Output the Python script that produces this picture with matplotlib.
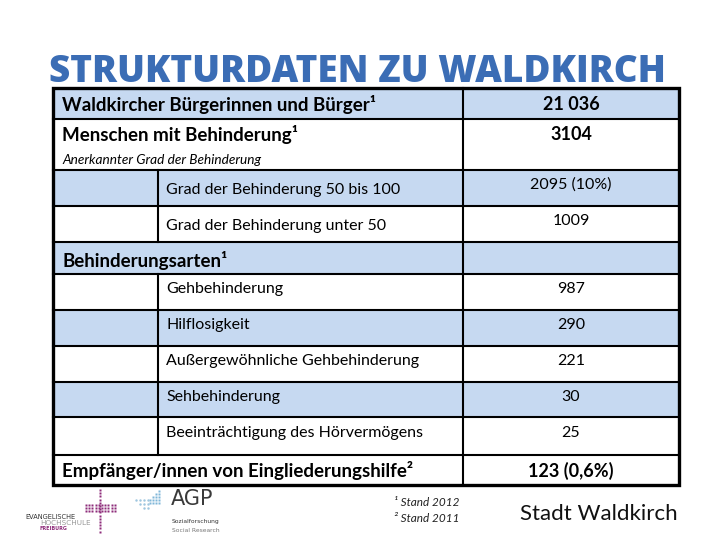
import matplotlib
matplotlib.use("Agg")
import matplotlib.pyplot as plt
from matplotlib.patches import Rectangle
import numpy as np

# table content
title = "STRUKTURDATEN ZU WALDKIRCH"
labels = ["Waldkircher Bürgerinnen und Bürger¹",
          "Menschen mit Behinderung¹",
          "Grad der Behinderung 50 bis 100",
          "Grad der Behinderung unter 50",
          "Behinderungsarten¹",
          "Gehbehinderung",
          "Hilflosigkeit",
          "Außergewöhnliche Gehbehinderung",
          "Sehbehinderung",
          "Beeinträchtigung des Hörvermögens",
          "Empfänger/innen von Eingliederungshilfe²"]
values = ["21 036", "3104", "2095 (10%)", "1009", "",
          "987", "290", "221", "30", "25", "123 (0,6%)"]
subtitle = "Anerkannter Grad der Behinderung"
footnotes = ["¹ Stand 2012", "² Stand 2011"]

# layout in slide pixels (720x540)
row_edges = [88, 119, 170, 206, 242, 274, 310, 346, 382, 417, 455, 485]
label_y = [105, 135, 190, 226, 260, 289, 325, 361, 397, 433, 471]
value_y = [105, 135, 185, 221, 260, 289, 325, 361, 397, 433, 471]
bold_rows = {0, 1, 4, 10}
blue_rows = {0, 2, 4, 6, 8}
indent_rows = {2, 3, 5, 6, 7, 8, 9}
x_left, x_inner, x_mid, x_right = 53, 158, 463, 679
blue = "#c6d9f1"
font = "Lato"

fig = plt.figure(figsize=(7.2, 5.4), dpi=100)
ax = fig.add_axes([0, 0, 1, 1])
ax.set_xlim(0, 720)
ax.set_ylim(540, 0)
ax.axis("off")

# title, fitted to the width of the slide heading
t = ax.text(357, 82, title, ha="center", va="baseline", fontsize=30,
            family="Open Sans", weight="heavy", color="#3b6db5")
r = fig.canvas.get_renderer()
w = t.get_window_extent(r).width
t.set_fontsize(30 * 615 / w)

# row backgrounds
for i in range(len(labels)):
    top, bot = row_edges[i], row_edges[i + 1]
    if i in blue_rows:
        ax.add_patch(Rectangle((x_left, top), x_right - x_left, bot - top,
                               fc=blue, ec="none", zorder=1))

# grid lines
for e in row_edges[1:-1]:
    ax.plot([x_left, x_right], [e, e], color="black", lw=1.5, zorder=2)
ax.plot([x_mid, x_mid], [row_edges[0], row_edges[-1]], color="black", lw=1.5, zorder=2)
for i in indent_rows:
    ax.plot([x_inner, x_inner], [row_edges[i], row_edges[i + 1]],
            color="black", lw=1.5, zorder=2)
ax.add_patch(Rectangle((x_left, row_edges[0]), x_right - x_left,
                       row_edges[-1] - row_edges[0], fill=False,
                       ec="black", lw=2.4, zorder=3))

# texts
for i, (lab, val) in enumerate(zip(labels, values)):
    bold = i in bold_rows
    x = x_inner + 8 if i in indent_rows else x_left + 9
    ax.text(x, label_y[i], lab, ha="left", va="center", family=font,
            fontsize=13.5 if bold else 11.5, weight="bold" if bold else "normal",
            zorder=4)
    ax.text((x_mid + x_right) / 2, value_y[i], val, ha="center", va="center",
            family=font, fontsize=13 if bold else 11.5,
            weight="bold" if bold else "normal", zorder=4)
ax.text(x_left + 9, 160, subtitle, ha="left", va="center", family=font,
        fontsize=9.8, style="italic", zorder=4)

# footnotes
for k, fn in enumerate(footnotes):
    ax.text(394, 503 + 16 * k, fn, ha="left", va="center", family=font,
            fontsize=8.5, style="italic", color="#222222")

# logos (approximate)
purple = "#8e2c7a"
for yy in np.arange(490, 532, 3.2):
    ax.plot(100, yy, "s", ms=1.6, color=purple, mec="none")
for xx in np.arange(86, 115, 3.2):
    for yy in (505, 508, 511):
        ax.plot(xx, yy, "s", ms=1.8, color=purple, mec="none")
ax.text(25, 517, "EVANGELISCHE", family="DejaVu Sans", fontsize=4.8, color="#333333", va="center")
ax.text(40, 523, "HOCHSCHULE", family="DejaVu Sans", fontsize=5.2, color="#999999", va="center")
ax.text(39, 529, "FREIBURG", family="DejaVu Sans", fontsize=3.5, color=purple,
        weight="bold", va="center")

for gx in range(4):
    for gy in range(5):
        if gx + gy >= 3:
            ax.plot(150 + 3 * gx, 491 + 3 * gy, "s", ms=1.5, color="#7fb6d8", mec="none")
for gx in range(4):
    for gy in range(3):
        if gx >= gy:
            ax.plot(136 + 4 * gx, 500 + 4 * gy, ".", ms=1.5, color="#9fc6df")
ax.text(171, 499, "AGP", family="Liberation Sans Narrow", fontsize=15,
        color="#3a3a3a", va="center")
ax.text(172, 521, "Sozialforschung", family="DejaVu Sans", fontsize=4.3,
        color="#333333", va="center")
ax.text(172, 530, "Social Research", family="DejaVu Sans", fontsize=4.3,
        color="#777777", va="center")

ax.text(599, 514, "Stadt Waldkirch", family=font, fontsize=16, ha="center",
        va="center", color="#111111")

fig.savefig("out.png", dpi=100)
